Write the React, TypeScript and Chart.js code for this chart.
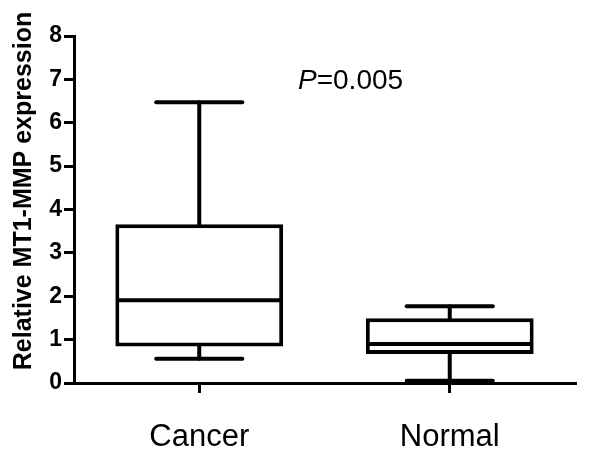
import React, { useEffect, useRef } from "react";
import { Chart, registerables } from "chart.js";

Chart.register(...registerables);

const categories = ["Cancer", "Normal"];
const whiskerMin = [0.56, 0.05];
const q1 = [0.84, 0.67];
const median = [1.91, 0.9];
const q3 = [3.66, 1.49];
const whiskerMax = [6.47, 1.77];
const yTicks = [0, 1, 2, 3, 4, 5, 6, 7, 8];
const yTitle = "Relative MT1-MMP expression";
const pLabel = "P";
const pValue = "=0.005";

const FONT = '"Liberation Sans", Arial, Helvetica, sans-serif';

const boxPlugin = {
  id: "boxExtras",
  afterDatasetsDraw(chart: any) {
    const { ctx, scales } = chart;
    const xs = scales.x;
    const ys = scales.y;
    const meta = chart.getDatasetMeta(0);
    const catW = xs.getPixelForValue(1) - xs.getPixelForValue(0);
    const capHalf = catW * 0.172;
    ctx.save();
    ctx.strokeStyle = "#000";
    ctx.lineWidth = 4;
    ctx.lineCap = "round";
    categories.forEach((_, i) => {
      const x = xs.getPixelForValue(i);
      const bar = meta.data[i];
      const half = bar.width / 2;
      ctx.beginPath();
      ctx.moveTo(x, ys.getPixelForValue(q3[i]));
      ctx.lineTo(x, ys.getPixelForValue(whiskerMax[i]));
      ctx.stroke();
      ctx.beginPath();
      ctx.moveTo(x - capHalf, ys.getPixelForValue(whiskerMax[i]));
      ctx.lineTo(x + capHalf, ys.getPixelForValue(whiskerMax[i]));
      ctx.stroke();
      ctx.beginPath();
      ctx.moveTo(x, ys.getPixelForValue(q1[i]));
      ctx.lineTo(x, ys.getPixelForValue(whiskerMin[i]));
      ctx.stroke();
      ctx.beginPath();
      ctx.moveTo(x - capHalf, ys.getPixelForValue(whiskerMin[i]));
      ctx.lineTo(x + capHalf, ys.getPixelForValue(whiskerMin[i]));
      ctx.stroke();
      ctx.lineCap = "butt";
      ctx.beginPath();
      ctx.moveTo(x - half + 2, ys.getPixelForValue(median[i]));
      ctx.lineTo(x + half - 2, ys.getPixelForValue(median[i]));
      ctx.stroke();
      ctx.lineCap = "round";
    });
    ctx.restore();
  },
  afterDraw(chart: any) {
    const { ctx } = chart;
    ctx.save();
    ctx.fillStyle = "#000";
    ctx.translate(24, 191);
    ctx.rotate(-Math.PI / 2);
    ctx.font = `bold 25px ${FONT}`;
    ctx.textAlign = "center";
    ctx.textBaseline = "middle";
    ctx.fillText(yTitle, 0, 0);
    ctx.restore();
    ctx.save();
    ctx.fillStyle = "#000";
    ctx.textBaseline = "middle";
    ctx.textAlign = "left";
    ctx.translate(298, 81);
    ctx.font = `italic 28px ${FONT}`;
    ctx.fillText(pLabel, 0, 0);
    const w = ctx.measureText(pLabel).width;
    ctx.font = `28px ${FONT}`;
    ctx.fillText(pValue, w, 0);
    ctx.restore();
  },
};

export default function App() {
  const ref = useRef<HTMLCanvasElement>(null);
  useEffect(() => {
    document.body.style.margin = "0";
    const canvas = ref.current!;
    const chart = new Chart(canvas, {
      type: "bar",
      data: {
        labels: categories,
        datasets: [
          {
            data: categories.map((_, i) => [q1[i], q3[i]]) as any,
            backgroundColor: "#fff",
            borderColor: "#000",
            borderWidth: 4,
            borderSkipped: false,
            barPercentage: 0.67,
            categoryPercentage: 1,
          },
        ],
      },
      options: {
        animation: false,
        responsive: false,
        maintainAspectRatio: false,
        layout: { padding: { left: 0, top: 36, right: 25, bottom: 0 } },
        plugins: {
          legend: { display: false },
          tooltip: { enabled: false },
          title: { display: false },
        },
        scales: {
          x: {
            offset: true,
            grid: {
              offset: false,
              drawOnChartArea: false,
              drawTicks: true,
              tickLength: 10,
              lineWidth: 3,
              color: "#000",
            },
            border: { display: true, width: 3, color: "#000" },
            ticks: {
              color: "#000",
              padding: 26,
              font: { family: FONT, size: 31 },
            },
            afterFit(scale: any) {
              scale.height = 452 - 383;
            },
          },
          y: {
            min: 0,
            max: 8,
            afterBuildTicks(scale: any) {
              scale.ticks = yTicks.map((v) => ({ value: v }));
            },
            grid: {
              drawOnChartArea: false,
              drawTicks: true,
              tickLength: 10,
              lineWidth: 3,
              color: "#000",
            },
            border: { display: true, width: 3, color: "#000" },
            ticks: {
              color: "#000",
              padding: 2,
              font: { family: FONT, size: 23, weight: "bold" },
            },
            afterFit(scale: any) {
              scale.width = 74;
            },
          },
        },
      },
      plugins: [boxPlugin],
    });
    return () => chart.destroy();
  }, []);
  return (
    <div style={{ width: 600, height: 452 }}>
      <canvas ref={ref} width={600} height={452} style={{ display: "block" }} />
    </div>
  );
}
